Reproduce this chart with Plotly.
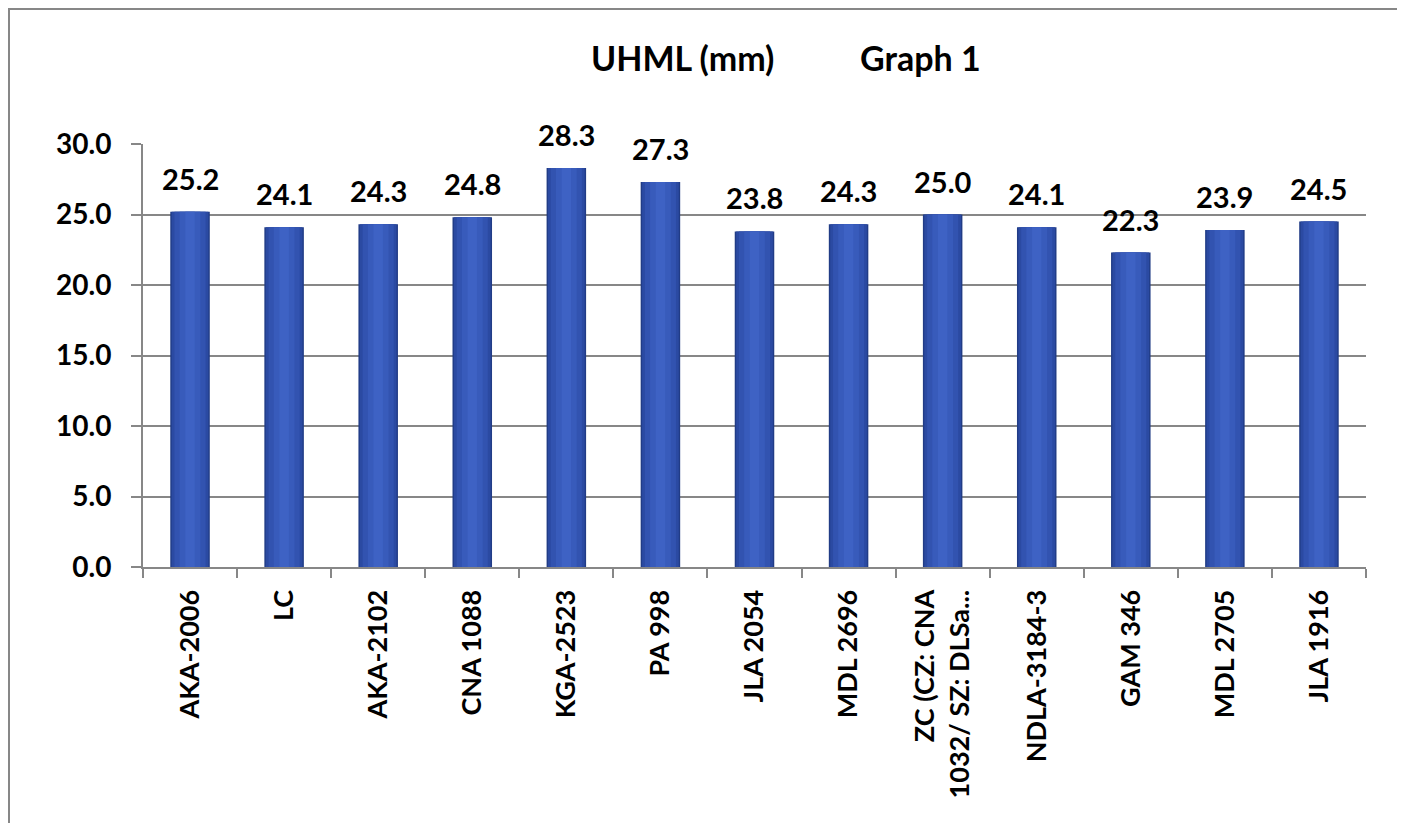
import plotly.graph_objects as go

categories = ["AKA-2006", "LC", "AKA-2102", "CNA 1088", "KGA-2523", "PA 998", "JLA 2054",
              "MDL 2696", "ZC (CZ: CNA<br>1032/ SZ: DLSa...", "NDLA-3184-3", "GAM 346",
              "MDL 2705", "JLA 1916"]
values = [25.2, 24.1, 24.3, 24.8, 28.3, 27.3, 23.8, 24.3, 25.0, 24.1, 22.3, 23.9, 24.5]
y_ticks = [0, 5, 10, 15, 20, 25, 30]

FONT = "Lato"
GRAY = "#878787"
# page body has an 8px margin; figure coordinates below are screen coords minus 8
L, R, T, B = 135, 1358, 136, 559
W, H = 1405, 823
pw, ph = R - L, B - T

fig = go.Figure()
# layered bars to mimic the shaded cylinder look
layers = [(0.42, "#213C86"), (0.39, "#2B4AA2"), (0.33, "#3253B0"), (0.22, "#385BBB"), (0.10, "#3E62C4")]
for w, c in layers:
    fig.add_trace(go.Bar(
        x=categories, y=values, width=w, marker=dict(color=c, line=dict(width=0)),
        hoverinfo="skip", showlegend=False))

for cat, v in zip(categories, values):
    fig.add_annotation(x=cat, y=v, text=f"{v:.1f}", showarrow=False, yanchor="bottom", yshift=14,
                       font=dict(family=FONT, size=29, color="black", weight="bold"))

fig.update_layout(
    barmode="overlay",
    width=W, height=H,
    margin=dict(l=L, r=W - R, t=T, b=H - B),
    paper_bgcolor="white", plot_bgcolor="white",
    font=dict(family=FONT, color="black"),
)
fig.update_xaxes(
    showline=True, linecolor=GRAY, linewidth=2,
    ticks="outside", ticklen=9, tickwidth=2, tickcolor=GRAY, tickson="boundaries",
    tickangle=-90, tickfont=dict(family=FONT, size=27, color="black", weight="bold"),
    ticklabelstandoff=10,
    showgrid=False,
)
fig.update_yaxes(
    range=[0, 30], tickvals=y_ticks, ticktext=[f"{t:.1f}" for t in y_ticks],
    showline=True, linecolor=GRAY, linewidth=2,
    ticks="outside", ticklen=10, tickwidth=2, tickcolor=GRAY,
    showgrid=True, gridcolor=GRAY, gridwidth=2,
    tickfont=dict(family=FONT, size=28, color="black", weight="bold"),
    ticklabelstandoff=14,
    zeroline=False,
)
# title pieces
fig.add_annotation(text="UHML (mm)", x=(674 - L) / pw, y=(B - 49) / ph, xref="paper", yref="paper",
                   xanchor="center", yanchor="middle",
                   showarrow=False, font=dict(family=FONT, size=34, weight="bold"))
fig.add_annotation(text="Graph 1", x=(912 - L) / pw, y=(B - 49) / ph, xref="paper", yref="paper",
                   xanchor="center", yanchor="middle",
                   showarrow=False, font=dict(family=FONT, size=34, weight="bold"))
# outer chart border
fig.add_shape(type="rect", xref="paper", yref="paper",
              x0=(1 - L) / pw, x1=(1392 - L) / pw,
              y0=(B - 840) / ph, y1=(B - 1) / ph,
              line=dict(color=GRAY, width=2), layer="below")
fig.write_html("out.html")
